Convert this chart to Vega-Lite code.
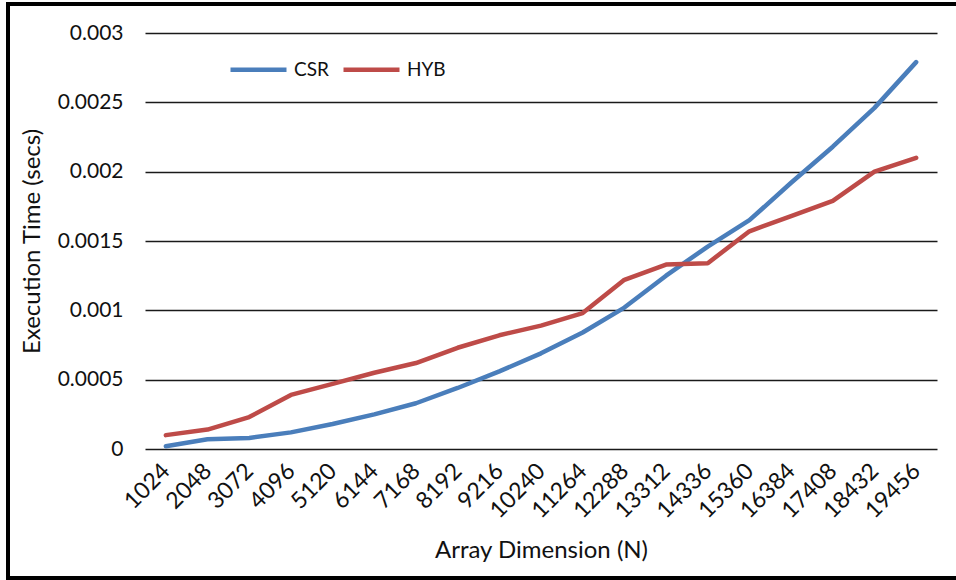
{
  "$schema": "https://vega.github.io/schema/vega-lite/v6.json",
  "width": 792,
  "height": 416,
  "autosize": {"type": "none"},
  "padding": {"left": 145, "top": 33, "right": 19, "bottom": 131},
  "background": "white",
  "config": {"view": {"stroke": null}, "font": "Lato"},
  "data": {
    "values": [
      {"series": "CSR", "N": 1024, "time": 0.00002},
      {"series": "CSR", "N": 2048, "time": 0.00007},
      {"series": "CSR", "N": 3072, "time": 0.00008},
      {"series": "CSR", "N": 4096, "time": 0.00012},
      {"series": "CSR", "N": 5120, "time": 0.00018},
      {"series": "CSR", "N": 6144, "time": 0.00025},
      {"series": "CSR", "N": 7168, "time": 0.00033},
      {"series": "CSR", "N": 8192, "time": 0.00044},
      {"series": "CSR", "N": 9216, "time": 0.00056},
      {"series": "CSR", "N": 10240, "time": 0.00069},
      {"series": "CSR", "N": 11264, "time": 0.00084},
      {"series": "CSR", "N": 12288, "time": 0.00102},
      {"series": "CSR", "N": 13312, "time": 0.00125},
      {"series": "CSR", "N": 14336, "time": 0.00146},
      {"series": "CSR", "N": 15360, "time": 0.00165},
      {"series": "CSR", "N": 16384, "time": 0.00192},
      {"series": "CSR", "N": 17408, "time": 0.00218},
      {"series": "CSR", "N": 18432, "time": 0.00246},
      {"series": "CSR", "N": 19456, "time": 0.00279},
      {"series": "HYB", "N": 1024, "time": 0.0001},
      {"series": "HYB", "N": 2048, "time": 0.00014},
      {"series": "HYB", "N": 3072, "time": 0.00023},
      {"series": "HYB", "N": 4096, "time": 0.00039},
      {"series": "HYB", "N": 5120, "time": 0.00047},
      {"series": "HYB", "N": 6144, "time": 0.00055},
      {"series": "HYB", "N": 7168, "time": 0.00062},
      {"series": "HYB", "N": 8192, "time": 0.00073},
      {"series": "HYB", "N": 9216, "time": 0.00082},
      {"series": "HYB", "N": 10240, "time": 0.00089},
      {"series": "HYB", "N": 11264, "time": 0.00098},
      {"series": "HYB", "N": 12288, "time": 0.00122},
      {"series": "HYB", "N": 13312, "time": 0.00133},
      {"series": "HYB", "N": 14336, "time": 0.00134},
      {"series": "HYB", "N": 15360, "time": 0.00157},
      {"series": "HYB", "N": 16384, "time": 0.00168},
      {"series": "HYB", "N": 17408, "time": 0.00179},
      {"series": "HYB", "N": 18432, "time": 0.002},
      {"series": "HYB", "N": 19456, "time": 0.0021}
    ]
  },
  "layer": [
    {
      "mark": {"type": "line", "strokeWidth": 4.5, "strokeCap": "round", "strokeJoin": "round"},
      "encoding": {
        "x": {
          "field": "N",
          "type": "ordinal",
          "scale": {"type": "point", "padding": 0.5},
          "axis": {
            "title": "Array Dimension (N)",
            "titleFontSize": 24,
            "titleFontWeight": "normal",
            "titleColor": "#111",
            "titlePadding": 16,
            "labelAngle": -45,
            "labelAlign": "right",
            "labelBaseline": "middle",
            "labelFontSize": 23,
            "labelColor": "#111",
            "labelPadding": 18,
            "ticks": false,
            "domain": false,
            "grid": false
          }
        },
        "y": {
          "field": "time",
          "type": "quantitative",
          "scale": {"domain": [0, 0.003], "nice": false},
          "axis": {
            "title": "Execution Time (secs)",
            "titleFontSize": 24,
            "titleFontWeight": "normal",
            "titleColor": "#111",
            "titlePadding": 13,
            "values": [0, 0.0005, 0.001, 0.0015, 0.002, 0.0025, 0.003],
            "format": "~g",
            "labelFontSize": 21,
            "labelColor": "#111",
            "labelPadding": 22,
            "ticks": false,
            "domain": false,
            "grid": true,
            "gridColor": "#1a1a1a",
            "gridWidth": 1.5
          }
        },
        "color": {
          "field": "series",
          "type": "nominal",
          "scale": {"domain": ["CSR", "HYB"], "range": ["#4A7EBB", "#BE4B48"]},
          "legend": {
            "title": null,
            "orient": "none",
            "direction": "horizontal",
            "legendX": 83,
            "legendY": 6,
            "symbolType": "stroke",
            "symbolSize": 3136,
            "symbolStrokeWidth": 4.5,
            "labelFontSize": 19,
            "labelColor": "#111",
            "labelOffset": 5,
            "columnPadding": 5
          }
        }
      }
    },
    {
      "mark": {"type": "rect", "fill": null, "stroke": "black", "strokeWidth": 4},
      "encoding": {
        "x": {"value": -137},
        "x2": {"value": 840},
        "y": {"value": -29},
        "y2": {"value": 545}
      }
    }
  ]
}
